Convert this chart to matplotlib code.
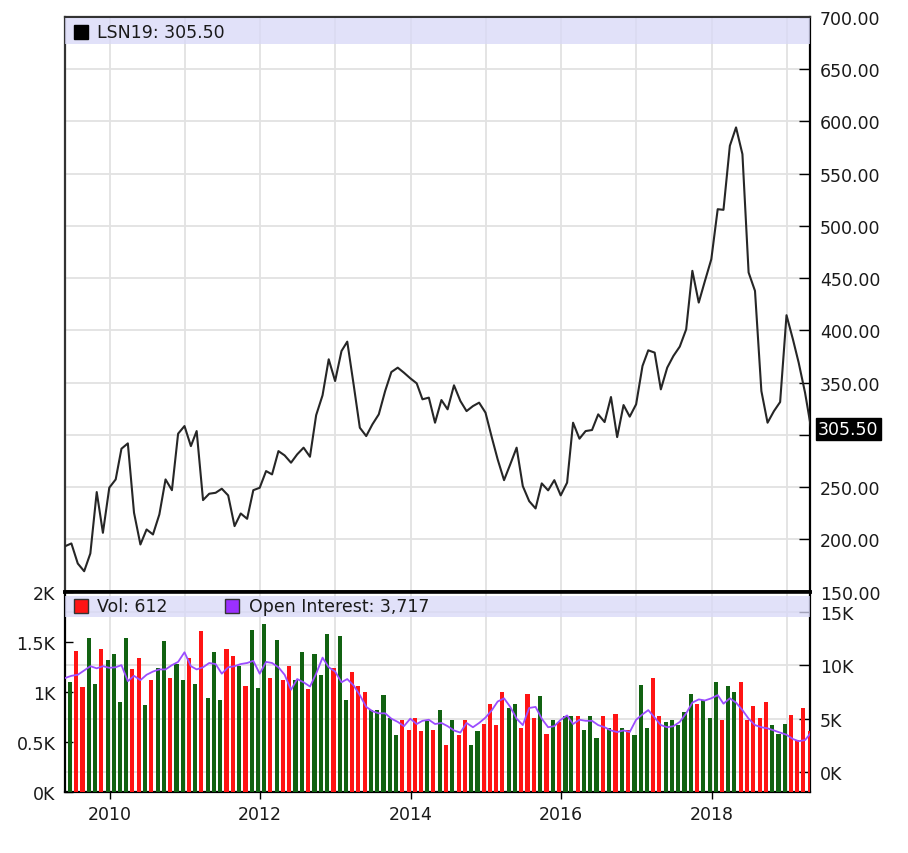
import numpy as np
import pandas as pd
import matplotlib
matplotlib.use("Agg")
import matplotlib.pyplot as plt
import matplotlib.dates as mdates
import matplotlib.transforms as mtransforms
from matplotlib.patches import Rectangle
from matplotlib.ticker import FuncFormatter

plt.rcParams['font.family'] = 'DejaVu Sans'
plt.rcParams['font.size'] = 12.5

# datos mensuales (cierre de fin de mes), mayo 2009 - abril 2019
fechas = pd.date_range('2009-06-01', periods=120, freq='MS') - pd.Timedelta(days=1)

precio = [193.4, 196.0, 176.8, 169.4, 186.4, 245.2, 206.2, 249.4, 257.3, 286.7,
          291.8, 225.4, 195.0, 209.4, 204.6, 223.8, 257.3, 247.0, 301.1, 308.4,
          289.2, 303.6, 237.5, 243.6, 244.5, 248.4, 242.0, 212.6, 224.7, 219.6,
          247.0, 249.3, 265.3, 262.1, 284.4, 280.3, 273.3, 281.3, 287.7, 279.0,
          318.8, 337.8, 372.3, 351.5, 380.2, 389.2, 348.0, 306.8, 298.8, 310.0,
          319.6, 342.0, 360.1, 364.3, 359.5, 354.1, 349.3, 334.0, 335.6, 311.6,
          333.3, 324.4, 347.4, 332.4, 322.7, 327.5, 330.8, 321.2, 297.2, 276.5,
          256.6, 271.7, 287.7, 250.9, 236.5, 229.5, 253.5, 246.8, 256.6, 242.0,
          254.2, 311.6, 296.3, 303.6, 304.6, 319.6, 312.2, 336.2, 297.8, 328.5,
          317.4, 329.2, 365.9, 380.9, 378.7, 343.5, 364.3, 375.5, 384.5, 401.0,
          457.0, 426.6, 447.3, 468.1, 516.0, 515.4, 576.7, 594.3, 568.7, 455.4,
          437.8, 341.9, 311.6, 322.7, 331.4, 414.5, 391.5, 369.1, 340.3, 305.5]

# volumen desde junio 2009 (fechas[1:])
volumen = [1100, 1410, 1050, 1540, 1080, 1430, 1320, 1380, 900, 1540,
           1230, 1340, 870, 1120, 1240, 1510, 1140, 1280, 1120, 1340,
           1080, 1610, 940, 1400, 920, 1430, 1360, 1260, 1060, 1620,
           1040, 1680, 1140, 1520, 1120, 1260, 1120, 1400, 1030, 1380,
           1170, 1580, 1240, 1560, 920, 1200, 1060, 1000, 820, 820,
           970, 740, 570, 720, 620, 740, 610, 710, 620, 820,
           470, 720, 570, 720, 470, 610, 680, 880, 670, 1000,
           840, 880, 640, 980, 740, 960, 580, 720, 700, 760,
           760, 760, 620, 760, 540, 760, 640, 780, 640, 620,
           570, 1070, 640, 1140, 760, 700, 720, 670, 800, 980,
           880, 920, 740, 1100, 720, 1060, 1000, 1100, 720, 860,
           740, 900, 670, 580, 680, 770, 520, 840, 612]

interes_abierto = [8800, 9000, 9100, 9500, 9900, 9700, 9900, 9750, 9800, 10000,
                   8500, 9000, 8600, 9100, 9400, 9600, 9600, 10000, 10300, 11200,
                   9900, 9600, 9800, 10200, 10100, 9200, 9800, 9900, 10100, 10200,
                   10400, 9200, 10300, 10200, 9800, 9100, 7700, 8700, 8400, 8000,
                   9200, 10700, 9800, 9400, 8400, 8700, 8100, 7200, 6100, 5700,
                   5500, 5500, 5000, 4700, 4300, 5000, 4500, 4800, 4900, 4500,
                   4600, 4300, 3900, 3700, 4600, 4200, 4600, 5100, 5800, 6600,
                   6900, 6100, 5000, 4400, 6000, 6100, 5000, 4200, 4300, 4900,
                   5300, 4500, 4900, 4800, 4800, 4400, 4200, 3900, 3750, 3900,
                   3750, 4900, 5400, 5800, 5100, 4400, 4200, 4300, 4700, 5500,
                   6500, 6800, 6700, 6900, 7200, 6400, 6900, 6500, 5800, 5000,
                   4400, 4200, 4100, 3900, 3700, 3500, 3100, 2900, 3000, 3717]

x = mdates.date2num(fechas.to_pydatetime())
x_vol = x[1:] - 8  # barras un poco a la izquierda, como en el original
colores = np.where(np.diff(precio) >= 0, '#116211', '#ff1414')

GRID = '#e2e2e2'
TXT = '#1a1a1a'
W, H = 908, 854


def rect(l, t, r, b):
    return [l / W, 1 - b / H, (r - l) / W, (b - t) / H]


def fmt_precio(v, p):
    # la etiqueta 300.00 queda tapada por la caja del ultimo precio
    if abs(v - 300) < 1e-6:
        return ''
    return f'{v:.2f}'


fig = plt.figure(figsize=(W / 100, H / 100), dpi=100)
ax_p = fig.add_axes(rect(65, 18, 810, 592.5))
ax_v = fig.add_axes(rect(65, 592.5, 810, 793.3), sharex=ax_p)
ax_b = ax_v.twinx()
ax_o = ax_v.twinx()

# ---- panel de precio ----
ax_p.plot(x, precio, color='#262626', lw=1.5, zorder=3)
ax_p.set_ylim(150, 700)
ax_p.set_yticks(np.arange(150, 701, 50))
ax_p.yaxis.tick_right()
ax_p.yaxis.set_major_formatter(FuncFormatter(fmt_precio))
ax_p.tick_params(axis='y', direction='in', length=8, width=1, pad=7, labelcolor=TXT)
ax_p.tick_params(axis='x', which='both', length=0, labelbottom=False)
ax_p.set_axisbelow(True)
ax_p.grid(True, which='both', color=GRID, lw=1.3)

ax_p.add_patch(Rectangle((0, 0.953), 1, 0.045, transform=ax_p.transAxes,
                         fc='#d8d8f8', ec='none', alpha=0.75, zorder=4))
ax_p.plot([0.0215], [0.974], 's', ms=10, color='black', transform=ax_p.transAxes,
          clip_on=False, zorder=5)
ax_p.text(0.043, 0.974, f'LSN19: {precio[-1]:.2f}', transform=ax_p.transAxes,
          va='center', ha='left', color=TXT, zorder=5)

trans = mtransforms.blended_transform_factory(ax_p.transAxes, ax_p.transData)
ax_p.text(1 + 8 / 745, precio[-1], f'{precio[-1]:.2f}', transform=trans,
          ha='left', va='center', color='white', zorder=10, clip_on=False,
          bbox=dict(boxstyle='square,pad=0.12', fc='black', ec='black'))

for s in ['left', 'top']:
    ax_p.spines[s].set_color('#333333')
    ax_p.spines[s].set_linewidth(1.6)
ax_p.spines['right'].set_linewidth(1.6)
ax_p.spines['bottom'].set_linewidth(2.6)

# ---- panel de volumen / interes abierto ----
ax_v.set_ylim(-1875, 16875)
ax_v.set_yticks([0, 5000, 10000, 15000])
ax_v.yaxis.set_major_formatter(FuncFormatter(lambda v, p: f'{v / 1000:g}K'))
ax_v.set_axisbelow(True)
ax_v.grid(True, which='both', color=GRID, lw=1.3)

ax_b.bar(x_vol, volumen, width=20, color=colores, zorder=2)
ax_b.set_ylim(0, 2000)
ax_b.set_yticks(np.arange(0, 2001, 500))
ax_b.yaxis.set_major_formatter(FuncFormatter(lambda v, p: f'{v / 1000:g}K'))

ax_o.plot(x, interes_abierto, color='#9b4dff', lw=1.3, zorder=3)
ax_o.set_ylim(-1875, 16875)
ax_o.set_yticks([])

ax_v.yaxis.tick_right()
ax_b.yaxis.tick_left()
ax_v.tick_params(axis='y', direction='in', length=8, width=1, pad=7, labelcolor=TXT)
ax_b.tick_params(axis='y', direction='in', length=6, width=1, pad=7, labelcolor=TXT)

ax_v.xaxis.set_major_locator(mdates.YearLocator(2))
ax_v.xaxis.set_minor_locator(mdates.YearLocator(1))
ax_v.xaxis.set_major_formatter(mdates.DateFormatter('%Y'))
ax_v.tick_params(axis='x', which='major', direction='out', length=5, width=1,
                 pad=4, labelcolor=TXT, labelbottom=True)
ax_v.tick_params(axis='x', which='minor', length=0)
ax_v.set_xlim(mdates.date2num(pd.Timestamp('2009-05-30')),
              mdates.date2num(pd.Timestamp('2019-04-24')))

ax_o.add_patch(Rectangle((0, 0.873), 1, 0.105, transform=ax_o.transAxes,
                         fc='#d8d8f8', ec='none', alpha=0.75, zorder=4))
ax_o.plot([0.0221], [0.928], 's', ms=10, mfc='#ff1414', mec='#333333', mew=1,
          transform=ax_o.transAxes, clip_on=False, zorder=5)
ax_o.text(0.043, 0.928, f'Vol: {volumen[-1]:,}', transform=ax_o.transAxes,
          va='center', ha='left', color=TXT, zorder=5)
ax_o.plot([0.2248], [0.928], 's', ms=10, mfc='#9b30ff', mec='#333333', mew=1,
          transform=ax_o.transAxes, clip_on=False, zorder=5)
ax_o.text(0.2474, 0.928, f'Open Interest: {interes_abierto[-1]:,}',
          transform=ax_o.transAxes, va='center', ha='left', color=TXT, zorder=5)

for a in (ax_b, ax_o):
    for s in a.spines.values():
        s.set_visible(False)
for s in ['left', 'right', 'bottom']:
    ax_v.spines[s].set_linewidth(1.6)
ax_v.spines['top'].set_linewidth(2.6)

plt.savefig('out.png', dpi=100)
